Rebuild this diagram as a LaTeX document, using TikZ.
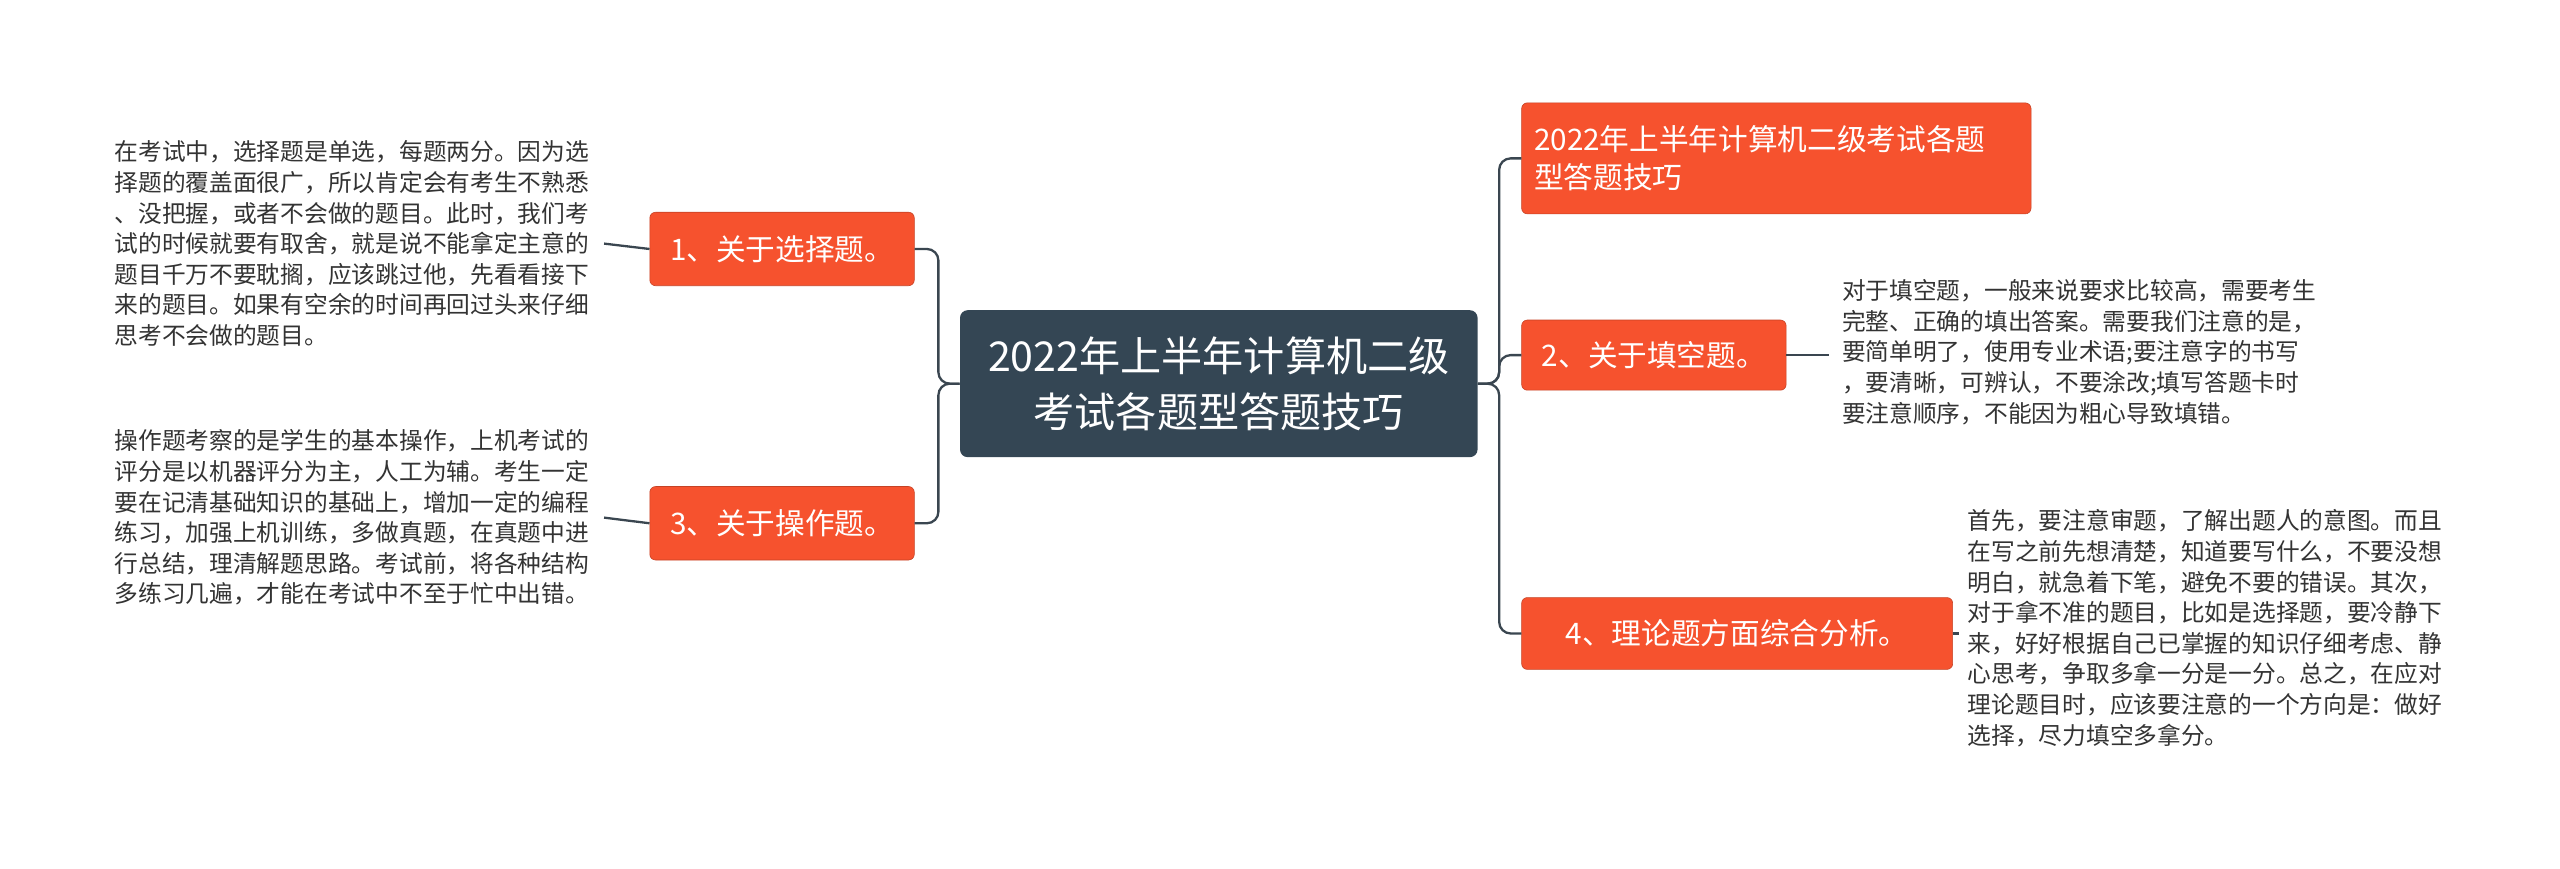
\documentclass[tikz,border=0pt]{standalone}
\usepackage{fontspec}
\setmainfont{Noto Sans CJK SC}
\definecolor{org}{HTML}{F6522E}
\definecolor{drk}{HTML}{344654}
\definecolor{ln}{HTML}{3A4650}
\definecolor{tx}{HTML}{333333}
\begin{document}
\begin{tikzpicture}[x=0.03cm,y=-0.03cm,
 obox/.style={fill=org,draw=org!80!black,line width=0.3pt,rounded corners=3pt,text=white,font=\fontsize{15.5}{20}\selectfont,inner sep=0pt},
 para/.style={anchor=north west,text=tx,font=\fontsize{12.4}{16}\selectfont,align=left,inner sep=0pt},
 conn/.style={draw=ln,line width=1.2pt,rounded corners=6pt}]
\useasboundingbox (0,0) rectangle (1568,532);
\node[fill=drk,rounded corners=4pt,minimum width=9.51cm,minimum height=2.7cm,text=white,align=center,font=\fontsize{21.5}{29}\selectfont] (c) at (746.5,235) {2022年上半年计算机二级\\考试各题型答题技巧};
\node[obox,minimum width=4.86cm,minimum height=1.35cm] (l1) at (479,152.5) {1、关于选择题。};
\node[obox,minimum width=4.86cm,minimum height=1.35cm] (l3) at (479,320.5) {3、关于操作题。};
\node[obox,minimum width=9.36cm,minimum height=2.04cm,align=left,text width=8.9cm] (rt) at (1088,97) {2022年上半年计算机二级考试各题\\型答题技巧};
\node[obox,minimum width=4.86cm,minimum height=1.29cm] (r2) at (1013,217.5) {2、关于填空题。};
\node[obox,minimum width=7.92cm,minimum height=1.32cm] (r4) at (1064,388) {4、理论题方面综合分析。};
\node[para] (t1) at (70,86) {在考试中，选择题是单选，每题两分。因为选\\择题的覆盖面很广，所以肯定会有考生不熟悉\\、没把握，或者不会做的题目。此时，我们考\\试的时候就要有取舍，就是说不能拿定主意的\\题目千万不要耽搁，应该跳过他，先看看接下\\来的题目。如果有空余的时间再回过头来仔细\\思考不会做的题目。};
\node[para] (t3) at (70,263) {操作题考察的是学生的基本操作，上机考试的\\评分是以机器评分为主，人工为辅。考生一定\\要在记清基础知识的基础上，增加一定的编程\\练习，加强上机训练，多做真题，在真题中进\\行总结，理清解题思路。考试前，将各种结构\\多练习几遍，才能在考试中不至于忙中出错。};
\node[para] (t2) at (1128,171) {对于填空题，一般来说要求比较高，需要考生\\完整、正确的填出答案。需要我们注意的是，\\要简单明了，使用专业术语;要注意字的书写\\，要清晰，可辨认，不要涂改;填写答题卡时\\要注意顺序，不能因为粗心导致填错。};
\node[para] (t4) at (1205,312) {首先，要注意审题，了解出题人的意图。而且\\在写之前先想清楚，知道要写什么，不要没想\\明白，就急着下笔，避免不要的错误。其次，\\对于拿不准的题目，比如是选择题，要冷静下\\来，好好根据自己已掌握的知识仔细考虑、静\\心思考，争取多拿一分是一分。总之，在应对\\理论题目时，应该要注意的一个方向是：做好\\选择，尽力填空多拿分。};
\draw[conn] (c.west) -- +(-13,0) |- (l1.east);
\draw[conn] (c.west) -- +(-13,0) |- (l3.east);
\draw[conn] (c.east) -- +(13,0) |- (rt.west);
\draw[conn] (c.east) -- +(13,0) |- (r2.west);
\draw[conn] (c.east) -- +(13,0) |- (r4.west);
\draw[conn] (l1.west) -- (t1.east -| 370,0);
\draw[conn] (l3.west) -- (t3.east -| 370,0);
\draw[conn] (r2.east) -- (r2.east -| 1120,0);
\draw[conn] (r4.east) -- (r4.east -| 1200,0);
\end{tikzpicture}
\end{document}
